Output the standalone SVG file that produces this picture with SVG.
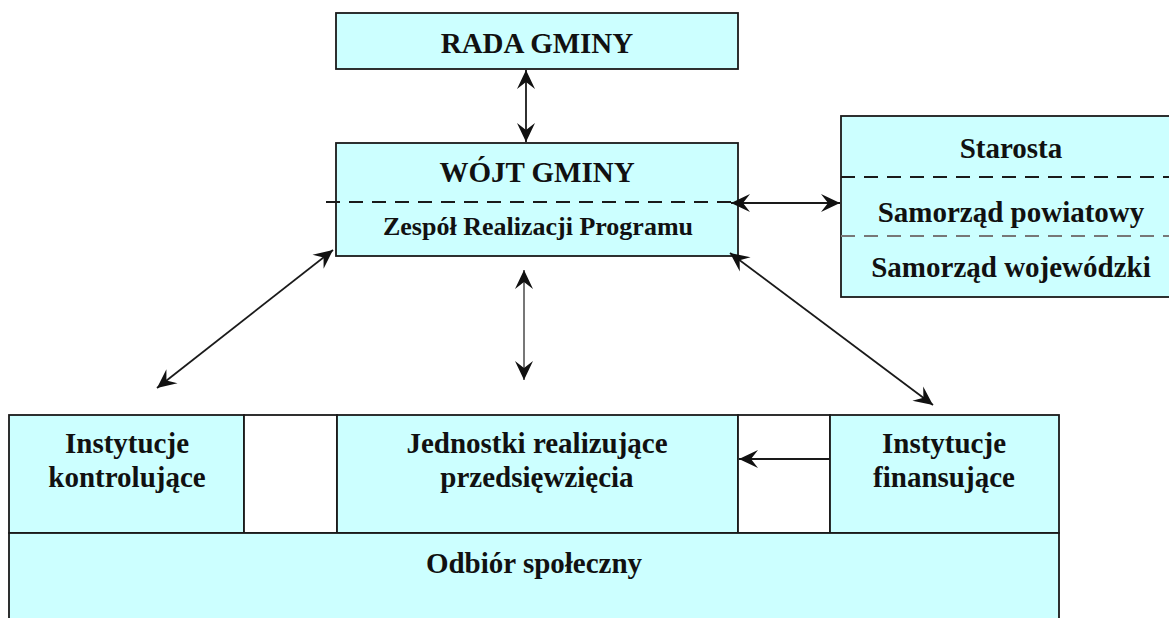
<svg xmlns="http://www.w3.org/2000/svg" width="1169" height="618" viewBox="0 0 1169 618">
<style>
  .box { fill: #ccffff; stroke: #1a1a1a; stroke-width: 1.8; }
  .wbox { fill: #ffffff; stroke: #1a1a1a; stroke-width: 1.8; }
  .t { font-family: "Liberation Serif", "Times New Roman", serif; font-weight: bold; font-size: 29px; fill: #111; text-anchor: middle; }
  .ts { font-size: 26px; }
  .dash { stroke: #1a1a1a; stroke-width: 1.8; stroke-dasharray: 14 9; fill: none; }
  .dashg { stroke: #777; stroke-width: 1.8; stroke-dasharray: 14 9; fill: none; }
  .c { stroke: #1a1a1a; stroke-width: 1.8; fill: none; }
  .cg { stroke: #777; stroke-width: 2; fill: none; }
</style>
<defs>
  <marker id="ah" viewBox="-22 -11 24 22" markerWidth="24" markerHeight="22" refX="0" refY="0" markerUnits="userSpaceOnUse" orient="auto-start-reverse">
    <path d="M0,0 L-19,-9 L-12,0 L-19,9 Z" fill="#111"/>
  </marker>
</defs>
<rect width="1169" height="618" fill="#ffffff"/>

<g id="rada">
  <rect class="box" x="336" y="13" width="402" height="56"/>
  <text class="t" x="537" y="53">RADA GMINY</text>
</g>

<g id="wojt">
  <rect class="box" x="336" y="143" width="402" height="113"/>
  <text class="t" x="537" y="182">WÓJT GMINY</text>
  <line class="dash" x1="326" y1="202" x2="738" y2="202"/>
  <text class="t ts" x="538" y="235">Zespół Realizacji Programu</text>
</g>

<g id="samorzad">
  <rect class="box" x="841" y="116" width="340" height="181"/>
  <line class="dash" x1="841" y1="177" x2="1169" y2="177"/>
  <line class="dashg" x1="841" y1="236" x2="1169" y2="236"/>
  <text class="t" x="1011" y="158">Starosta</text>
  <text class="t" x="1011" y="222">Samorząd powiatowy</text>
  <text class="t" x="1011" y="277">Samorząd wojewódzki</text>
</g>

<g id="kontrolujace">
  <rect class="box" x="9" y="415" width="235" height="118"/>
  <text class="t" x="127" y="453">Instytucje</text>
  <text class="t" x="127" y="487">kontrolujące</text>
</g>

<g id="gap1">
  <rect class="wbox" x="244" y="415" width="93" height="118"/>
</g>

<g id="jednostki">
  <rect class="box" x="337" y="415" width="401" height="118"/>
  <text class="t" x="537" y="453">Jednostki realizujące</text>
  <text class="t" x="537" y="487">przedsięwzięcia</text>
</g>

<g id="gap2">
  <rect class="wbox" x="738" y="415" width="92" height="118"/>
</g>

<g id="finansujace">
  <rect class="box" x="830" y="415" width="229" height="118"/>
  <text class="t" x="944" y="453">Instytucje</text>
  <text class="t" x="944" y="487">finansujące</text>
</g>

<g id="odbior">
  <rect class="box" x="9" y="533" width="1050" height="100"/>
  <text class="t" x="534" y="573">Odbiór społeczny</text>
</g>

<g id="connectors">
  <line class="c" x1="526" y1="70" x2="526" y2="142" marker-start="url(#ah)" marker-end="url(#ah)"/>
  <line class="c" x1="731" y1="203" x2="840" y2="203" marker-start="url(#ah)" marker-end="url(#ah)"/>
  <line class="c" x1="157" y1="388" x2="333" y2="250" marker-start="url(#ah)" marker-end="url(#ah)"/>
  <line class="cg" x1="524" y1="270" x2="524" y2="380" marker-start="url(#ah)" marker-end="url(#ah)"/>
  <line class="c" x1="730" y1="253" x2="933" y2="405" marker-start="url(#ah)" marker-end="url(#ah)"/>
  <line class="c" x1="830" y1="459" x2="739" y2="459" marker-end="url(#ah)"/>
</g>
</svg>
